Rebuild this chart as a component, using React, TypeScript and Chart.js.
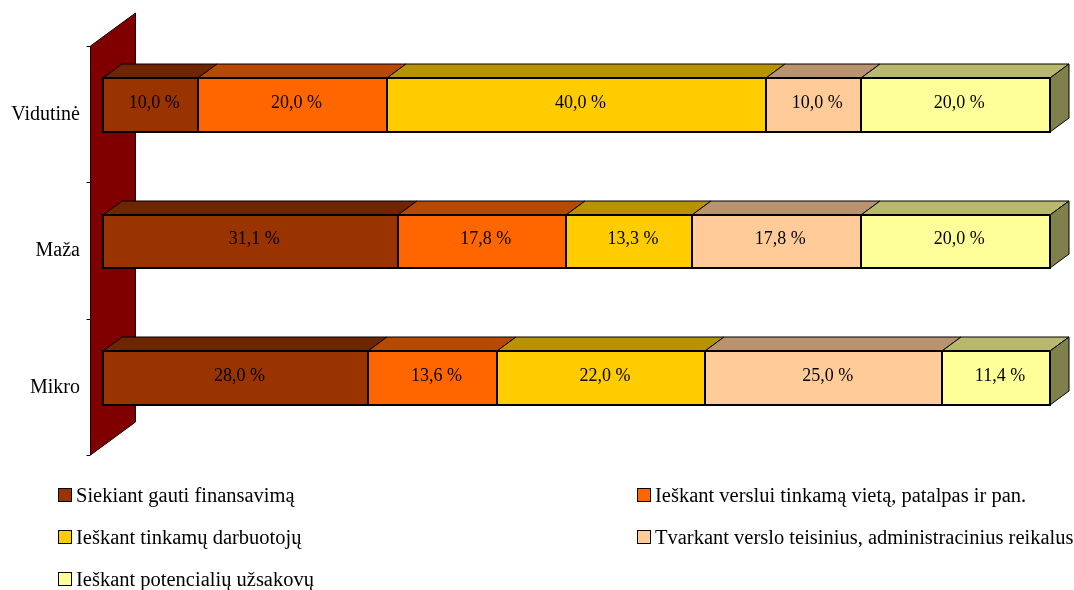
import React, { useEffect, useRef } from "react";
import { Chart, registerables } from "chart.js";

Chart.register(...registerables);

const categories = ["Vidutinė", "Maža", "Mikro"];
const seriesNames = [
  "Siekiant gauti finansavimą",
  "Ieškant verslui tinkamą vietą, patalpas ir pan.",
  "Ieškant tinkamų darbuotojų",
  "Tvarkant verslo teisinius, administracinius reikalus",
  "Ieškant potencialių užsakovų",
];
const finansavimas = [10.0, 31.1, 28.0];
const vieta = [20.0, 17.8, 13.6];
const darbuotojai = [40.0, 13.3, 22.0];
const reikalai = [10.0, 17.8, 25.0];
const uzsakovai = [20.0, 20.0, 11.4];
const seriesValues = [finansavimas, vieta, darbuotojai, reikalai, uzsakovai];
const colors = ["#993300", "#FF6600", "#FFCC00", "#FFCC99", "#FFFF99"];

const FONT = '"Liberation Serif", "Times New Roman", serif';

function shade(hex: string, f: number) {
  const n = parseInt(hex.slice(1), 16);
  const r = Math.round(((n >> 16) & 255) * f);
  const g = Math.round(((n >> 8) & 255) * f);
  const b = Math.round((n & 255) * f);
  return `rgb(${r},${g},${b})`;
}

const fmt = (v: number) => v.toFixed(1).replace(".", ",") + " %";

// 3D geometry (pixels) relative to bar plane
const DX = 19;
const DY = 14;
const WALL_FX = -13;
const WALL_FY = 9;
const WALL_BX = 32;
const WALL_BY = -24;

const threeD = {
  id: "threeD",
  beforeDatasetsDraw(chart: any) {
    const { ctx, chartArea, scales } = chart;
    const ys = scales.y;
    const { top, bottom, left } = chartArea;
    const fx = Math.round(left + WALL_FX) + 0.5;
    const bx = Math.round(left + WALL_BX) + 0.5;
    ctx.save();
    ctx.beginPath();
    ctx.moveTo(fx, top + WALL_FY);
    ctx.lineTo(bx, top + WALL_BY);
    ctx.lineTo(bx, bottom + WALL_BY);
    ctx.lineTo(fx, bottom + WALL_FY);
    ctx.closePath();
    ctx.fillStyle = "#800000";
    ctx.fill();
    ctx.strokeStyle = "#1a0000";
    ctx.lineWidth = 1;
    ctx.stroke();
    const n = categories.length;
    ctx.strokeStyle = "#000";
    ctx.beginPath();
    for (let i = 0; i <= n; i++) {
      const yy = Math.round(ys.getPixelForValue(i - 0.5) + WALL_FY) + 0.5;
      ctx.moveTo(fx - 4, yy);
      ctx.lineTo(fx, yy);
    }
    ctx.stroke();
    ctx.restore();
  },
  afterDatasetsDraw(chart: any) {
    const { ctx } = chart;
    const nds = chart.data.datasets.length;
    ctx.save();
    ctx.strokeStyle = "#000";
    ctx.lineJoin = "miter";
    for (let d = 0; d < nds; d++) {
      const meta = chart.getDatasetMeta(d);
      const col = colors[d];
      meta.data.forEach((el: any) => {
        const p = el.getProps(["x", "y", "base", "height"], true);
        const x1 = Math.round(Math.min(p.x, p.base));
        const x2 = Math.round(Math.max(p.x, p.base));
        const t = Math.round(p.y - p.height / 2);
        const b = Math.round(p.y + p.height / 2);
        ctx.lineWidth = 1;
        ctx.beginPath();
        ctx.moveTo(x1, t);
        ctx.lineTo(x1 + DX, t - DY);
        ctx.lineTo(x2 + DX, t - DY);
        ctx.lineTo(x2, t);
        ctx.closePath();
        ctx.fillStyle = shade(col, 0.72);
        ctx.fill();
        ctx.stroke();
        if (d === nds - 1) {
          ctx.beginPath();
          ctx.moveTo(x2, t);
          ctx.lineTo(x2 + DX, t - DY);
          ctx.lineTo(x2 + DX, b - DY);
          ctx.lineTo(x2, b);
          ctx.closePath();
          ctx.fillStyle = shade(col, 0.5);
          ctx.fill();
          ctx.stroke();
        }
        ctx.lineWidth = 2;
        ctx.strokeRect(x1, t, x2 - x1, b - t);
      });
    }
    ctx.fillStyle = "#000";
    ctx.font = `18px ${FONT}`;
    ctx.textAlign = "center";
    ctx.textBaseline = "middle";
    for (let d = 0; d < nds; d++) {
      const meta = chart.getDatasetMeta(d);
      meta.data.forEach((el: any, i: number) => {
        const p = el.getProps(["x", "y", "base"], true);
        ctx.fillText(fmt(seriesValues[d][i]), (p.x + p.base) / 2 + 4, p.y - 2);
      });
    }
    ctx.restore();
  },
};

export default function App() {
  const ref = useRef<HTMLCanvasElement | null>(null);
  useEffect(() => {
    if (!ref.current) return;
    const chart = new Chart(ref.current, {
      type: "bar",
      data: {
        labels: categories,
        datasets: seriesValues.map((vals, i) => ({
          label: seriesNames[i],
          data: vals,
          backgroundColor: colors[i],
          borderWidth: 0,
          inflateAmount: 0,
          barPercentage: 0.396,
          categoryPercentage: 1,
        })),
      },
      options: {
        indexAxis: "y",
        responsive: false,
        maintainAspectRatio: false,
        animation: false,
        devicePixelRatio: 1,
        layout: { padding: { top: 37, bottom: 144, right: 24, left: 0 } },
        plugins: { legend: { display: false }, tooltip: { enabled: false } },
        scales: {
          x: { stacked: true, min: 0, max: 100, display: false },
          y: {
            stacked: true,
            grid: { display: false, drawTicks: false },
            border: { display: false },
            ticks: {
              padding: 23,
              color: "#000",
              labelOffset: 9.5,
              font: { family: FONT, size: 20 },
            },
            afterFit: (scale: any) => {
              scale.width = 103;
            },
          },
        },
      } as any,
      plugins: [threeD],
    });
    return () => chart.destroy();
  }, []);

  return (
    <div
      style={{
        position: "absolute",
        left: 0,
        top: 0,
        width: 1074,
        height: 590,
        background: "#fff",
        overflow: "hidden",
      }}
    >
      <canvas
        ref={ref}
        width={1074}
        height={590}
        style={{ position: "absolute", left: 0, top: 0 }}
      />
      {seriesNames.map((name, i) => {
        const col = i % 2;
        const row = Math.floor(i / 2);
        const left = col === 0 ? 58 : 637;
        const cy = 495 + row * 42;
        return (
          <div
            key={name}
            style={{
              position: "absolute",
              left,
              top: cy - 14,
              height: 28,
              display: "flex",
              alignItems: "center",
              font: `20.5px ${FONT}`,
              color: "#000",
              whiteSpace: "nowrap",
            }}
          >
            <span
              style={{
                display: "inline-block",
                boxSizing: "border-box",
                width: 14,
                height: 14,
                border: "1.5px solid #000",
                background: colors[i],
                marginRight: 4,
              }}
            />
            {name}
          </div>
        );
      })}
    </div>
  );
}
